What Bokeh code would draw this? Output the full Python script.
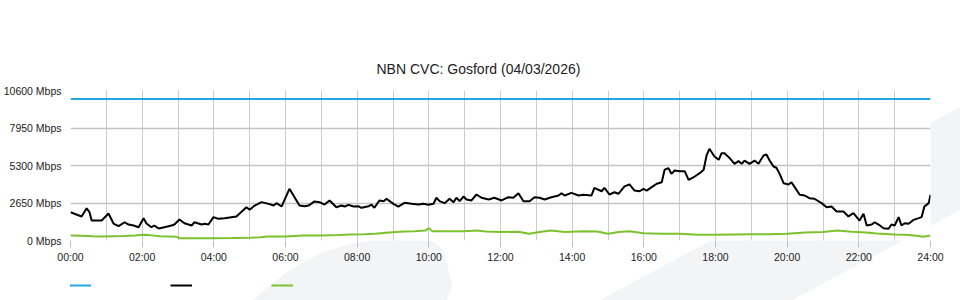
from urllib.parse import quote
from bokeh.plotting import figure
from bokeh.layouts import column
from bokeh.models import Range1d, FixedTicker, PrintfTickFormatter, Legend, LegendItem
from bokeh.embed import file_html
from bokeh.resources import INLINE

# ---------------- data ----------------
title_text = "NBN CVC: Gosford (04/03/2026)"

hour_ticks = [0, 2, 4, 6, 8, 10, 12, 14, 16, 18, 20, 22, 24]
hour_minor_ticks = list(range(0, 25))
hour_tick_labels = ["00:00", "02:00", "04:00", "06:00", "08:00", "10:00", "12:00",
                    "14:00", "16:00", "18:00", "20:00", "22:00", "24:00"]
mbps_ticks = [0, 2650, 5300, 7950, 10600]

capacity_hours = [0, 24]
capacity_mbps = [10000, 10000]

traffic_hours = [0.0, 0.31, 0.45, 0.53, 0.59, 0.87, 1.06, 1.20, 1.34, 1.51,
                 1.62, 1.76, 1.90, 2.04, 2.12, 2.26, 2.34, 2.46, 2.62, 2.82,
                 2.90, 3.04, 3.18, 3.38, 3.46, 3.66, 3.74, 3.85, 3.99, 4.13,
                 4.30, 4.49, 4.63, 4.91, 5.00, 5.14, 5.33, 5.53, 5.67, 5.75,
                 5.89, 6.11, 6.39, 6.53, 6.64, 6.81, 6.95, 7.09, 7.23, 7.42,
                 7.56, 7.65, 7.76, 7.90, 8.04, 8.12, 8.32, 8.40, 8.48, 8.62,
                 8.74, 8.82, 9.01, 9.15, 9.32, 9.52, 9.71, 9.85, 9.99, 10.13,
                 10.21, 10.30, 10.44, 10.58, 10.69, 10.77, 10.86, 10.97, 11.05, 11.19,
                 11.33, 11.47, 11.67, 11.83, 12.03, 12.22, 12.36, 12.50, 12.64, 12.81,
                 12.95, 13.09, 13.23, 13.42, 13.62, 13.70, 13.79, 13.98, 14.18, 14.32,
                 14.54, 14.62, 14.82, 14.90, 15.04, 15.18, 15.29, 15.46, 15.60, 15.74,
                 15.88, 15.99, 16.08, 16.22, 16.36, 16.50, 16.58, 16.69, 16.77, 16.86,
                 17.00, 17.14, 17.25, 17.42, 17.56, 17.67, 17.75, 17.83, 17.97, 18.09,
                 18.17, 18.25, 18.39, 18.53, 18.64, 18.73, 18.81, 18.95, 19.09, 19.20,
                 19.34, 19.42, 19.51, 19.62, 19.70, 19.79, 19.90, 20.04, 20.12, 20.21,
                 20.35, 20.49, 20.62, 20.76, 20.96, 21.10, 21.24, 21.38, 21.57, 21.71,
                 21.85, 22.02, 22.13, 22.22, 22.36, 22.44, 22.55, 22.69, 22.83, 22.91,
                 23.00, 23.11, 23.19, 23.28, 23.39, 23.53, 23.67, 23.75, 23.83, 23.95,
                 24.0]
traffic_mbps = [2000, 1700, 2280, 2000, 1410, 1410, 1910, 1200, 1010, 1290,
                1130, 1060, 940, 1580, 1200, 940, 1060, 850, 940, 1060,
                1130, 1480, 1220, 1060, 1290, 1130, 1180, 1130, 1650, 1530,
                1580, 1650, 1700, 2350, 2170, 2470, 2710, 2590, 2470, 2640,
                2400, 3650, 2470, 2420, 2470, 2760, 2710, 2540, 2830, 2350,
                2470, 2400, 2520, 2400, 2420, 2310, 2420, 2540, 2310, 2830,
                2780, 2950, 2590, 2400, 2660, 2590, 2540, 2590, 2520, 2590,
                3020, 2780, 2640, 2950, 2710, 3020, 2780, 3110, 2900, 2830,
                3250, 3020, 2900, 3020, 2830, 3060, 3020, 3340, 2780, 2780,
                3060, 3020, 2900, 3060, 3180, 3340, 3180, 3370, 3180, 3230,
                3180, 3720, 3480, 3720, 3250, 3410, 3300, 3820, 3960, 3530,
                3480, 3650, 3530, 3770, 4010, 4120, 5000, 5110, 4710, 4950,
                4900, 4900, 4290, 4520, 4760, 5000, 6010, 6480, 5940, 5700,
                6170, 6170, 5840, 5420, 5610, 5420, 5650, 5420, 5650, 5420,
                6010, 6080, 5650, 5230, 5140, 4710, 4050, 3960, 4120, 3770,
                3230, 3180, 2990, 2950, 2640, 2350, 2400, 2050, 2050, 1700,
                1930, 1410, 1890, 1060, 1130, 1290, 1130, 870, 830, 1130,
                1060, 1650, 1060, 1220, 1180, 1460, 1580, 1650, 2400, 2640,
                3230]

upload_hours = [0.0, 0.3, 0.6, 0.9, 1.2, 1.5, 1.8, 2.0, 2.2, 2.5,
                2.8, 2.95, 3.05, 3.5, 4.0, 4.5, 5.0, 5.3, 5.5, 6.0,
                6.5, 7.0, 7.5, 7.8, 8.2, 8.5, 8.8, 9.0, 9.3, 9.6,
                9.9, 10.0, 10.1, 10.5, 11.0, 11.33, 11.6, 12.0, 12.5, 12.8,
                13.0, 13.4, 13.8, 14.3, 14.7, 15.0, 15.3, 15.6, 16.0, 16.5,
                17.0, 17.5, 18.0, 18.5, 19.0, 19.5, 20.0, 20.5, 21.0, 21.4,
                21.8, 22.2, 22.5, 23.0, 23.3, 23.6, 23.8, 24.0]
upload_mbps = [350, 340, 300, 280, 300, 320, 350, 400, 380, 300,
               280, 270, 160, 160, 160, 170, 190, 230, 280, 280,
               350, 350, 380, 420, 440, 480, 540, 580, 640, 650,
               700, 870, 660, 660, 650, 700, 640, 600, 620, 470,
               560, 700, 600, 650, 640, 470, 600, 650, 520, 470,
               470, 400, 400, 420, 440, 440, 470, 560, 600, 700,
               620, 560, 500, 430, 400, 330, 260, 350]

# ---------------- style ----------------
FONT = "Liberation Sans"
BLUE = "#22a6e1"
BLACK = "#000000"
GREEN = "#7dc22e"
GRID = "#cccccc"
WM = "rgb(243,244,246)"

# decorative background watermark (page pixels)
wm_svg = ("<svg xmlns='http://www.w3.org/2000/svg' width='960' height='300'>"
          f"<path d='M600 300 L960 107 L960 210 L792 300 Z' fill='{WM}'/>"
          f"<path d='M253 300 Q300 256 347 245 Q385 236 417 238 Q440 240 445 255 L452 285 L447 300 Z' fill='{WM}'/>"
          "</svg>")
wm_uri = "data:image/svg+xml;charset=utf-8," + quote(wm_svg)

p = figure(width=960, height=270, output_backend="svg", toolbar_location=None,
           x_range=Range1d(0, 24), y_range=Range1d(0, 10600),
           min_border_left=69, min_border_right=30, min_border_top=90, min_border_bottom=30)
p.border_fill_color = None
p.background_fill_color = "white"
p.outline_line_color = None

p.title.text = title_text
p.title.text_font = FONT
p.title.text_font_size = "14px"
p.title.text_font_style = "normal"
p.title.text_color = "#222222"
p.title.align = "left"
p.title.offset = 306
p.title.standoff = 27

# x axis
xticker = FixedTicker(ticks=hour_ticks, minor_ticks=hour_minor_ticks)
p.xaxis.ticker = xticker
p.xaxis.major_label_overrides = {h: lab for h, lab in zip(hour_ticks, hour_tick_labels)}
p.xaxis.axis_line_color = None
p.xaxis.major_tick_in = 0
p.xaxis.major_tick_out = 7
p.xaxis.major_tick_line_color = "#c0c0c0"
p.xaxis.minor_tick_line_color = None
p.xaxis.major_label_standoff = 3
p.xaxis.major_label_text_font = FONT
p.xaxis.major_label_text_font_size = "10.5px"
p.xaxis.major_label_text_color = "#222222"

p.xgrid.ticker = xticker
p.xgrid.grid_line_color = GRID
p.xgrid.minor_grid_line_color = GRID

# y axis
yticker = FixedTicker(ticks=mbps_ticks)
p.yaxis.ticker = yticker
p.yaxis.formatter = PrintfTickFormatter(format="%d Mbps")
p.yaxis.axis_line_color = None
p.yaxis.major_tick_in = 0
p.yaxis.major_tick_out = 0
p.yaxis.minor_tick_line_color = None
p.yaxis.major_label_standoff = 9
p.yaxis.major_label_text_font = FONT
p.yaxis.major_label_text_font_size = "10.5px"
p.yaxis.major_label_text_color = "#222222"
p.ygrid.ticker = yticker
p.ygrid.grid_line_color = "#c4c4c4"
p.ygrid.grid_line_width = 1.5

# series
r_cap = p.line(capacity_hours, capacity_mbps, line_color=BLUE, line_width=2)
r_down = p.line(traffic_hours, traffic_mbps, line_color=BLACK, line_width=2)
r_up = p.line(upload_hours, upload_mbps, line_color=GREEN, line_width=2)
p.renderers = [r_cap, r_up, r_down]

# legend strip (swatches only, as in the original); the series themselves fall
# outside this strip's ranges, so only the legend swatches are visible here
lg = figure(width=960, height=30, output_backend="svg", toolbar_location=None,
            x_axis_type=None, y_axis_type=None, title=None,
            x_range=Range1d(-2, -1), y_range=Range1d(-2, -1),
            min_border=0, min_border_left=0, min_border_right=0,
            min_border_top=0, min_border_bottom=0)
lg.border_fill_color = None
lg.background_fill_color = None
lg.outline_line_color = None
lg.grid.visible = False
s_cap = lg.line(capacity_hours, capacity_mbps, line_color=BLUE, line_width=2)
s_down = lg.line(traffic_hours, traffic_mbps, line_color=BLACK, line_width=2)
s_up = lg.line(upload_hours, upload_mbps, line_color=GREEN, line_width=2)
legend = Legend(items=[LegendItem(label=" ", renderers=[s_cap]),
                       LegendItem(label=" ", renderers=[s_down]),
                       LegendItem(label=" ", renderers=[s_up])],
                orientation="horizontal", location=(-1, 5),
                glyph_width=22, glyph_height=20, label_height=20,
                label_standoff=0, label_width=79,
                spacing=0, padding=0, margin=0,
                background_fill_alpha=0, border_line_color=None,
                label_text_font_size="8px")
lg.add_layout(legend, "center")

page = column(p, lg, spacing=0)
page.styles = {"background-image": f'url("{wm_uri}")', "background-repeat": "no-repeat"}

open("out.html", "w").write(file_html(page, INLINE))
